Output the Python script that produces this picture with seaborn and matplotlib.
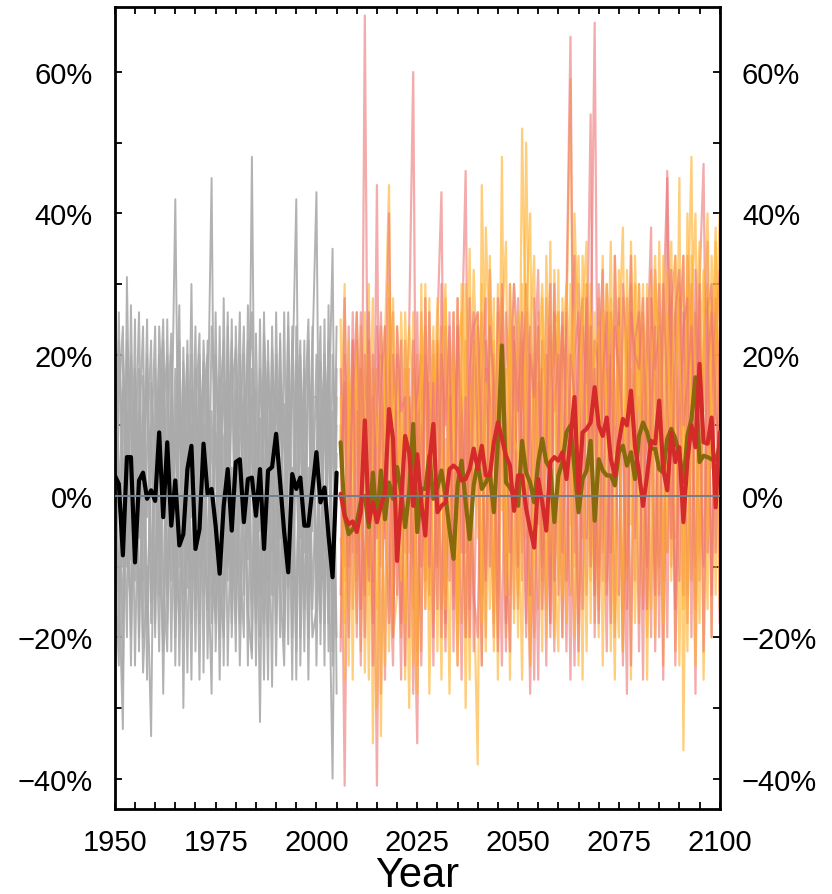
import matplotlib
matplotlib.use("Agg")
import numpy as np
import pandas as pd
import seaborn as sns
import matplotlib.pyplot as plt
from matplotlib.ticker import MultipleLocator, FuncFormatter

# ---------------- data (percent anomalies) ----------------
hist_years = list(range(1950, 2006))
fut_years = list(range(2006, 2101))

hist_mean = [2.9, 1.7, -8.4, 5.5, 5.5, -9.4, 2.2, 3.3, -0.4, 0.8,
             -0.7, 9.0, -3.0, 7.6, -4.2, 2.2, -7.0, -5.4, 3.8, 7.1,
             -7.5, -4.7, 7.4, 0.3, 1.0, -4.2, -11.0, -1.4, 3.8, -4.9,
             4.8, 5.2, -3.7, 2.4, 2.6, -2.8, 3.8, -7.5, 3.6, 4.1,
             8.8, 1.9, -5.1, -10.8, 3.1, 1.0, 2.6, -4.2, -4.2, 1.0,
             6.2, -0.9, 1.2, -5.6, -11.5, 3.3]

fut_mean_a = [7.6, -2.8, -5.4, -4.7, -3.7, -0.9, 0.0, -4.4, 3.3, -3.7,
              3.6, -3.3, 1.9, -0.4, 4.1, 0.5, -4.4, 0.5, 10.2, -5.1,
              1.0, 1.0, 5.7, -0.4, 1.2, 3.6, 0.0, -4.7, -8.9, 1.5,
              5.0, -0.9, -6.1, 1.5, 4.8, 1.0, 1.9, 3.3, -2.3, 7.6,
              21.3, 1.9, 1.2, 0.0, -1.4, 7.8, 3.3, 1.9, -0.9, 4.8,
              8.1, 4.8, 3.8, -3.7, 2.9, 4.8, 9.0, 10.0, 3.8, -2.3,
              2.4, 3.6, 7.8, -3.5, 5.2, 3.6, 2.9, 2.9, 1.5, 6.2,
              7.1, 4.3, 6.2, 2.4, 8.5, 10.4, 9.0, 6.7, 6.7, 3.8,
              3.3, 8.1, 9.5, 8.1, 5.9, 1.9, 8.5, 10.9, 16.8, 4.8,
              5.7, 5.5, 5.2, 5.0, 7.1]

fut_mean_b = [0.3, -2.8, -4.0, -3.6, -5.1, -2.3, 10.7, -3.7, -0.9, -3.7,
              -1.4, 0.5, 12.3, 8.1, -9.2, -0.9, 8.5, 6.1, -1.4, 5.9,
              -0.9, -5.6, 4.8, 10.2, -2.3, -1.4, -0.9, 3.8, 4.3, 3.8,
              2.2, 2.4, 3.8, 6.7, 3.8, 7.1, 2.9, 2.9, 7.6, 10.4,
              8.1, 5.7, 4.3, -2.1, 2.9, 2.9, -1.8, -4.7, -7.3, 2.4,
              -0.9, -4.9, 4.8, 5.5, 5.0, 6.2, 2.4, 8.1, 14.0, 0.5,
              9.0, 9.5, 10.4, 15.4, 10.0, 8.5, 11.1, 5.2, 2.9, 7.6,
              10.9, 10.0, 14.9, 7.1, 3.3, -1.4, 2.9, 7.8, 7.4, 13.5,
              3.8, 0.8, 9.0, 4.8, 6.9, -3.7, 5.0, 10.0, 6.9, 18.7,
              7.6, 7.4, 11.1, -1.6, 9.0]

gray_1 = [8, -12, -33, 31, -5, 14, -20, 6, 18, -15,
          10, -8, 22, -18, 5, 42, -10, 12, -25, 15,
          -5, 20, -14, 9, 45, -22, 3, 16, -12, 25,
          -18, 7, 24, -9, 48, -16, 11, -26, 19, 2,
          -11, 23, -19, 8, 15, 42, -24, 6, -8, 20,
          43, -21, 12, -6, -40, 18]
gray_2 = [-15, 22, 5, -20, 27, -8, 12, -25, -10, -34,
          18, -5, -22, 25, -12, 8, 27, -30, 15, -3,
          24, -18, 10, -6, -28, 20, 5, -14, 26, -9,
          12, -24, 3, 22, -15, 9, -32, 16, -4, 21,
          7, -20, 26, -13, 4, -22, 17, -8, 22, -16,
          5, 24, -18, 9, 35, -28]
gray_3 = [20, 5, -18, 12, -9, 25, -22, 17, -3, 10,
          -20, 24, 8, -14, 20, -24, 14, -7, 22, -18,
          11, 23, -25, 17, -4, 9, -20, 28, -10, 14,
          21, -8, -20, 27, 6, -18, 25, -12, 8, -27,
          26, -6, 13, -21, 24, 3, -14, 22, -26, 11,
          -12, 19, -24, 27, -10, 6]
gray_4 = [-22, 14, 24, -8, -16, 3, 26, -12, 20, -6,
          -12, 15, -28, 9, 23, -6, -18, 21, -9, 30,
          -16, 6, 19, -23, 12, -12, 24, -8, 17, -20,
          4, 26, -14, 10, -22, 23, -5, 18, -20, 12,
          -24, 14, -4, 24, -12, 19, -20, 10, 25, -5,
          20, -14, 25, -18, 12, -20]
gray_5 = [12, -20, 15, -10, 20, -24, 8, 24, -18, 6,
          24, -14, 12, 20, -22, 10, -4, 19, -13, 10,
          -22, 14, -9, 22, -14, 26, -12, -20, 6, 22,
          -10, 16, 9, -16, -23, 15, -20, 23, 10, -14,
          20, -12, -24, 16, -20, 10, 22, -16, 4, -20,
          -16, 12, -8, 22, -24, 14]
gray_6 = [-6, 26, -10, 20, -24, 10, -14, -4, 25, -18,
          3, 20, -12, -22, 14, -16, 22, -14, 9, -26,
          18, -10, 22, 6, -18, -8, 17, -24, 24, -12,
          15, -18, 20, -6, 14, -24, 18, 5, -26, 24,
          -6, 22, -15, 12, -26, 24, -6, 18, -14, 24,
          -24, 10, 18, -22, 20, 4]
gray_7 = [16, 2, -26, 22, 10, -12, 18, -20, 7, 22,
          -18, 10, 25, -10, -6, 18, -24, 6, 20, -12,
          8, -26, 14, 20, -8, -18, 12, 22, -24, 4,
          -22, 20, -4, 12, 26, -10, 4, -18, 22, -8,
          14, 4, -20, 26, -8, -14, 12, -22, 18, 8,
          -6, -18, 20, 8, -14, 24]
gray_8 = [-10, -24, 20, 6, -20, 18, -6, 12, -26, 16,
          6, -22, 18, -4, 10, -20, 16, -20, -4, 20,
          -12, 18, -4, -16, 24, 10, -26, 8, 12, -18,
          24, -4, 14, -24, 18, 6, -14, 26, -12, 16,
          -18, 18, 10, -10, 22, -26, 20, 4, -20, 14,
          14, -8, -14, 16, -22, 10]

orange_1 = [25, -18, 10, -6,
            15, -22, 8, 30, -35, 12, -10, 22, 44, -15,
            6, -20, 18, -8, 26, -24, 10, 3, -16, 20,
            -10, 24, -20, 14, -6, 28, -18, 8, 35, -12,
            -38, 44, 12, -16, 22, -8, 48, -20, 10, 30,
            -14, 52, 18, -24, 6, 26, -12, 20, -18, 32,
            8, -20, 24, 59, -10, 16, -26, 30, 4, -14,
            28, -8, 18, -22, 34, 10, -16, 24, -4, 30,
            -18, 20, 6, 32, -12, 26, -24, 14, 36, -6,
            45, -36, 22, 48, -10, 28, 6, -16, 34, 18,
            40]
orange_2 = [-20, 14, -8, 22,
            -12, 18, -25, 6, 28, -30, 16, -4, 20, -18,
            24, 4, -26, 14, -10, 20, -22, 30, -6, 12,
            22, -16, 8, -28, 26, -10, 14, -20, 6, 32,
            14, -24, 38, 20, -12, 30, -2, 18, -26, 24,
            16, -8, 50, 10, -20, 24, 4, -16, 36, -8,
            -22, 28, 8, -14, 40, 20, -6, 12, 30, -18,
            10, 34, -12, 26, -18, 22, 38, -10, 18, 6,
            24, -14, 30, 12, -20, 36, 8, -8, 28, -22,
            16, 34, -14, 26, 40, -8, 22, 30, -20, 36,
            12]
orange_3 = [8, 30, -24, 12,
            20, -6, 26, -14, 10, 18, -34, 24, 6, -20,
            -14, 26, 6, -30, 18, 2, 24, -12, 28, -18,
            12, -26, 28, 4, -14, 20, 26, -30, 16, 2,
            20, 10, -22, 34, 6, -20, 24, 36, -14, 16,
            -20, 30, -6, 22, 34, -16, 28, 12, -8, 24,
            26, 6, -18, 30, 12, -24, 34, 16, -12, 26,
            -16, 20, 30, 4, -26, 32, 14, -12, 36, 10,
            30, 8, -20, 24, 16, -14, 34, -8, 20, 26,
            -24, 14, 30, -12, 22, 36, -26, 12, 28, -14,
            24]
orange_4 = [-6, -12, 22, -26,
            26, 4, -14, 20, -8, -16, 24, 14, -22, 28,
            -4, 12, -18, 24, 14, -28, 30, -16, 6, 24,
            -22, 16, 30, -8, 20, -24, 4, 30, -12, 22,
            -6, 30, -10, 8, 28, -26, 14, -8, 30, -18,
            26, 12, 20, -24, 18, 8, -22, 34, 14, -20,
            32, -14, 20, -4, 24, 34, 10, -22, 26, 12,
            -20, 26, 10, 36, -4, -20, 28, 16, -26, 34,
            12, 30, -26, 18, 34, -10, 22, 32, -12, 16,
            30, -16, 40, 8, -24, 18, 32, -6, 16, 38,
            -16]
orange_5 = [14, -26, 18, 6,
            -18, 24, 12, -26, 18, 8, 4, -24, 30, 10,
            18, -12, 26, 6, -24, 12, 16, 24, -28, 6,
            28, 8, -16, 22, 10, -20, 30, 12, -26, 18,
            26, -18, 16, 12, -22, 20, 28, -14, 24, 8,
            6, -26, 26, 40, -10, 18, 30, -20, 24, 14,
            -12, 20, 30, 14, -20, 8, 26, 36, -18, 20,
            24, -24, 14, 28, 10, 24, -22, 32, 12, -18,
            8, 26, 16, -16, 30, 22, -18, 26, 6, 34,
            20, 8, -22, 34, 14, -18, 26, 40, 4, 22,
            30]

pink_1 = [10, -41, 16, -8,
          22, -16, 68, -10, 14, -41, 20, -6, 28, -20,
          12, -18, 8, 24, 60, -22, 6, 18, -14, 22,
          -10, 30, -18, 14, 4, -24, 20, 46, -16, 10,
          24, -14, 18, 4, -20, 26, 10, -22, 30, 6,
          -16, 22, 8, -28, 18, 32, -10, 20, -18, 26,
          14, -20, 28, 65, -8, 30, 12, -14, 20, 67,
          -10, 26, 20, -18, 34, 8, -22, 28, 14, -12,
          30, -16, 20, 38, -22, 14, 26, 45, -10, 18,
          28, -14, 34, 22, -28, 30, 47, -8, 16, 26,
          -18]
pink_2 = [-22, 20, -10, 26,
          -8, 18, -20, 26, -12, 44, -28, 10, 40, -16,
          20, 8, -24, 14, -6, -35, 26, -12, 16, -20,
          24, 43, -14, 6, 26, -18, 12, -8, 28, -22,
          14, 26, -20, 32, 8, -14, 24, -18, 16, 30,
          20, -12, 30, 12, -26, 16, -8, 28, 6, -22,
          26, 10, -22, 18, 34, -18, 24, 16, 54, -20,
          24, -12, 30, 14, -20, 26, 8, -28, 30, 16,
          -22, 24, 12, -20, 32, 18, -26, 46, 10, -16,
          22, 34, -18, 14, 26, -12, 20, 36, -20, 28,
          14]
pink_3 = [18, -10, 24, -16,
          12, -24, 20, 6, -18, 24, 10, -26, 16, 26,
          -14, 22, -8, 18, -28, 14, 20, -16, 26, 4,
          18, -20, 24, -12, 20, 10, -26, 22, 6, -14,
          -20, 16, 28, -10, 20, 4, -24, 26, 12, -16,
          28, 6, -18, 24, 10, -26, 22, 14, -20, 30,
          -14, 24, 14, -26, 20, 26, -16, 30, 8, 22,
          18, 32, -14, 20, 6, 28, -24, 12, 34, -6,
          14, -26, 28, 8, -14, 30, 12, -20, 26, 34,
          -12, 26, 8, 30, -16, 22, 12, 28, -14, 20,
          32]
pink_4 = [-14, 28, -4, 14,
          26, 2, -14, 22, -24, 12, 26, -4, -18, 20,
          6, -26, 22, 10, -16, 26, -10, 20, 12, -24,
          22, 6, -22, 26, -16, 24, 12, -20, 18, 26,
          8, -24, 22, 14, -18, 28, 18, -6, -22, 24,
          -10, 18, 26, -14, 28, -4, 18, -24, 22, 12,
          20, -8, 26, 6, -24, 20, 28, -6, 24, -14,
          30, 6, -22, 26, 14, -14, 30, 20, -24, 22,
          26, 8, -10, 28, 18, 24, -12, 20, 32, -24,
          10, 24, 28, -20, 32, 8, -10, 26, 30, -8,
          22]
pink_5 = [4, 16, -20, 22,
          -20, 26, 4, -12, 20, -6, 16, 24, -8, -24,
          24, 12, 14, -20, 22, 8, -24, 28, -10, 16,
          -16, 20, 10, 24, -22, 28, -8, 14, -20, 24,
          26, 6, -12, 24, 16, -22, 30, 10, -8, 22,
          12, 26, -20, 20, 14, 24, -16, 8, 30, -12,
          8, 26, -12, 20, 14, -22, 6, 28, -10, 18,
          -18, 16, 26, -8, 24, 18, 10, -16, 26, 20,
          18, 28, -16, 12, 24, -20, 30, 14, -6, 26,
          32, 10, 16, 24, 8, 30, -22, 18, 26, 12,
          6]

gray_members = [gray_1, gray_2, gray_3, gray_4, gray_5, gray_6, gray_7, gray_8]
orange_members = [orange_1, orange_2, orange_3, orange_4, orange_5]
pink_members = [pink_1, pink_2, pink_3, pink_4, pink_5]

y_major = [-40, -20, 0, 20, 40, 60]
x_major = [1950, 1975, 2000, 2025, 2050, 2075, 2100]

# ---------------- plot ----------------
sns.set_theme(style="ticks")
plt.rcParams["font.family"] = ["Liberation Sans", "DejaVu Sans"]

fig = plt.figure(figsize=(8.32, 8.95), dpi=100)
ax = fig.add_axes([0.138, 0.095, 0.727, 0.896])

for m in gray_members:
    sns.lineplot(x=hist_years, y=m, ax=ax, color="#aaaaaa", lw=1.4,
                 alpha=0.9, legend=False, zorder=2)

pal_o = "#ffb12e"
pal_p = "#ee7474"
for o, p in zip(orange_members, pink_members):
    sns.lineplot(x=fut_years, y=o, ax=ax, color=pal_o, lw=1.6,
                 alpha=0.62, legend=False, zorder=2)
    sns.lineplot(x=fut_years, y=p, ax=ax, color=pal_p, lw=1.6,
                 alpha=0.6, legend=False, zorder=2)

sns.lineplot(x=hist_years, y=hist_mean, ax=ax, color="black", lw=3.0,
             legend=False, zorder=4)
sns.lineplot(x=fut_years, y=fut_mean_a, ax=ax, color="#876a0c", lw=3.0,
             legend=False, zorder=4)
sns.lineplot(x=fut_years, y=fut_mean_b, ax=ax, color="#d42a2a", lw=3.0,
             legend=False, zorder=5)

ax.axhline(0, color="#708090", lw=1.4, zorder=6)

ax.set_xlim(1950, 2100)
ax.set_ylim(-44.3, 69.2)
ax.set_xticks(x_major)
ax.xaxis.set_minor_locator(MultipleLocator(5))
ax.set_yticks(y_major)
ax.yaxis.set_minor_locator(MultipleLocator(10))
ax.yaxis.set_major_formatter(
    FuncFormatter(lambda v, _: f"{v:.0f}%".replace("-", "\u2212")))

ax.tick_params(which="both", direction="in", top=True, right=True,
               labelright=True, length=5, width=1.3, color="black",
               labelsize=21, pad=16, labelcolor="black")
ax.tick_params(axis="x", pad=14)
for s in ax.spines.values():
    s.set_linewidth(2.0)
    s.set_color("black")

ax.set_xlabel("Year", fontsize=30, labelpad=-1, color="black")
ax.set_ylabel("")
ax.grid(False)

fig.savefig("out.png", dpi=100, facecolor="white")
